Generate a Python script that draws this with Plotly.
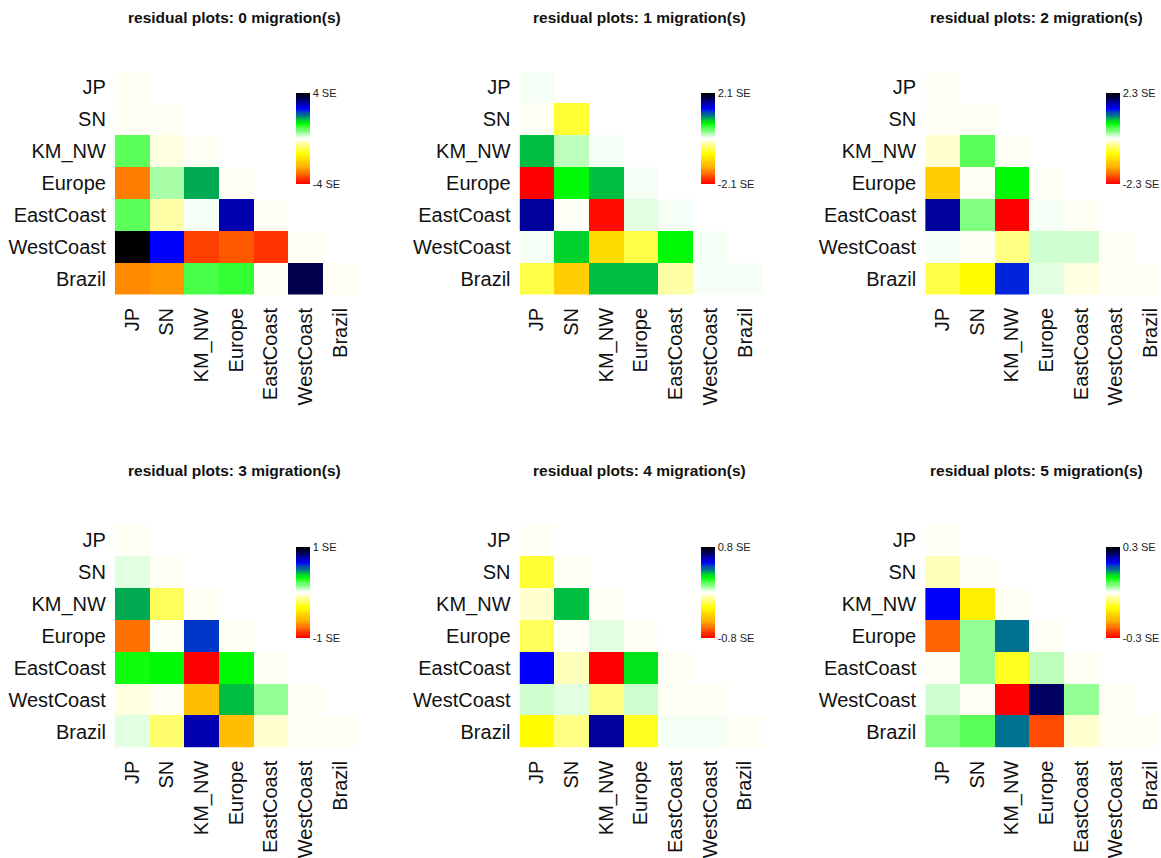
import numpy as np
import plotly.graph_objects as go

# ---- data -----------------------------------------------------------------
pops = ["JP", "SN", "KM_NW", "Europe", "EastCoast", "WestCoast", "Brazil"]
migrations = [0, 1, 2, 3, 4, 5]
se_max = [4, 2.1, 2.3, 1, 0.8, 0.3]

# lower-triangle residuals in SE units; row i holds columns 0..i
resid_m0 = [
    [0.0],
    [0.0, 0.0],
    [0.89, -0.16, 0.0],
    [-2.96, 0.46, 1.78, 0.0],
    [0.80, -0.41, 0.08, 3.00, 0.0],
    [4.00, 2.64, -3.48, -3.27, -3.55, 0.0],
    [-2.87, -2.71, 0.97, 1.07, -0.04, 3.50, 0.0],
]
resid_m1 = [
    [0.04],
    [0.0, -0.57],
    [0.88, 0.19, 0.04],
    [-2.10, 0.69, 0.88, 0.04],
    [1.66, 0.0, -2.00, 0.09, 0.04],
    [0.04, 0.79, -0.97, -0.48, 0.73, 0.04],
    [-0.51, -1.10, 0.88, 0.84, -0.24, 0.04, 0.04],
]
resid_m2 = [
    [0.0],
    [0.0, 0.0],
    [-0.17, 0.51, 0.0],
    [-1.17, 0.0, 0.80, 0.0],
    [1.79, 0.38, -2.30, 0.05, 0.0],
    [0.05, 0.0, -0.36, 0.15, 0.15, 0.0],
    [-0.56, -0.78, 1.43, 0.10, -0.07, 0.0, 0.0],
]
resid_m3 = [
    [0.0],
    [0.04, 0.0],
    [0.43, -0.22, 0.0],
    [-0.76, 0.0, 0.60, 0.0],
    [0.31, 0.345, -1.00, 0.34, 0.0],
    [-0.03, 0.0, -0.57, 0.42, 0.145, 0.0],
    [0.04, -0.19, 0.76, -0.57, -0.06, 0.0, 0.0],
]
resid_m4 = [
    [0.0],
    [-0.20, 0.0],
    [-0.05, 0.34, 0.0],
    [-0.16, 0.0, 0.035, 0.0],
    [0.52, -0.07, -0.80, 0.29, 0.0],
    [0.05, 0.035, -0.14, 0.05, 0.0, 0.0],
    [-0.27, -0.14, 0.62, -0.23, 0.015, 0.015, 0.0],
]
resid_m5 = [
    [0.0],
    [-0.027, 0.0],
    [0.20, -0.12, 0.0],
    [-0.24, 0.04, 0.156, 0.0],
    [0.0, 0.04, -0.087, 0.027, 0.0],
    [0.02, 0.0, -0.30, 0.26, 0.04, 0.0],
    [0.05, 0.067, 0.156, -0.25, -0.02, 0.0, 0.0],
]
residuals = [resid_m0, resid_m1, resid_m2, resid_m3, resid_m4, resid_m5]

# ---- palette: 80-step ramp red-orange-yellow-white-green-blue-black -------
anchors = np.array([
    [255, 0, 0], [255, 165, 0], [255, 255, 0], [255, 255, 255],
    [0, 255, 0], [0, 0, 255], [0, 0, 0]], dtype=float)
ncol = 80
pos = np.linspace(0, 1, ncol) * (len(anchors) - 1)
ramp = []
for p in pos:
    i = min(int(np.floor(p)), len(anchors) - 2)
    f = p - i
    c = anchors[i] * (1 - f) + anchors[i + 1] * f
    ramp.append("rgb(%d,%d,%d)" % tuple(int(v + 0.5) for v in c))

# stepped scale; zero itself falls in the lower middle step
eps = 1e-6
colorscale = []
for k, col in enumerate(ramp):
    lo = k / ncol
    hi = (k + 1) / ncol
    if k == ncol // 2:
        lo += eps
    if k == ncol // 2 - 1:
        hi += eps
    colorscale.append([lo, col])
    colorscale.append([hi, col])
colorscale[0][0] = 0.0
colorscale[-1][0] = 1.0

# ---- layout geometry (pixels) ---------------------------------------------
W, H = 1161, 858
col_x = [(115, 358), (520, 763), (926, 1169)]
row_y = [(72, 297), (528, 753)]
title_x = [235, 640, 1037]
title_y = [18, 474]
cbar_x = [296, 702, 1107]
cbar_y = [(94, 185), (551, 642)]

FONT = "Liberation Sans, Arial, Helvetica, sans-serif"

fig = go.Figure()
n = len(pops)
annotations = []

for idx, (mig, vmax, rows) in enumerate(zip(migrations, se_max, residuals)):
    r, c = divmod(idx, 3)
    ax = "" if idx == 0 else str(idx + 1)

    z = np.full((n, n), np.nan)
    for i, vals in enumerate(rows):
        for j, v in enumerate(vals):
            z[i, j] = v

    x0, x1 = col_x[c]
    cell_w = (x1 - x0) / n
    right = min(x1, W)
    x_hi = -0.5 + (right - x0) / cell_w
    y0, y1 = row_y[r]
    cb0, cb1 = cbar_y[r]

    fig.add_trace(go.Heatmap(
        z=z,
        x=list(range(n)),
        y=list(range(n)),
        colorscale=colorscale,
        zmin=-vmax, zmax=vmax,
        hoverongaps=False,
        xaxis="x" + ax, yaxis="y" + ax,
        colorbar=dict(
            x=cbar_x[c] / W, xanchor="left",
            y=1 - (cb0 + cb1) / 2 / H, yanchor="middle",
            len=cb1 - cb0, lenmode="pixels",
            thickness=14, thicknessmode="pixels",
            xpad=0, ypad=0, outlinewidth=0,
            tickmode="array",
            tickvals=[-vmax, vmax],
            ticktext=["-%g SE" % vmax, "%g SE" % vmax],
            ticks="", ticklen=0,
            tickfont=dict(family=FONT, size=11, color="#222"),
        ),
    ))

    fig.update_layout(**{
        "xaxis" + ax: dict(
            domain=[x0 / W, right / W],
            anchor="y" + ax,
            range=[-0.5, x_hi],
            tickmode="array", tickvals=list(range(n)), ticktext=pops,
            tickangle=-90, ticks="", ticklabelstandoff=8,
            ticklabeloverflow="allow",
            showgrid=False, zeroline=False, showline=False,
            tickfont=dict(family=FONT, size=20, color="#111"),
            fixedrange=True,
        ),
        "yaxis" + ax: dict(
            domain=[1 - y1 / H, 1 - y0 / H],
            anchor="x" + ax,
            range=[n - 0.5, -0.5],
            tickmode="array", tickvals=list(range(n)), ticktext=pops,
            ticks="", ticklabelstandoff=8,
            ticklabeloverflow="allow",
            showgrid=False, zeroline=False, showline=False,
            tickfont=dict(family=FONT, size=20, color="#111"),
            fixedrange=True,
        ),
    })

    annotations.append(dict(
        text="<b>residual plots: %d migration(s)</b>" % mig,
        x=title_x[c] / W, y=1 - title_y[r] / H,
        xref="paper", yref="paper",
        xanchor="center", yanchor="middle",
        showarrow=False,
        font=dict(family=FONT, size=15.5, color="#111"),
    ))

fig.update_layout(
    width=W, height=H,
    autosize=False,
    margin=dict(l=0, r=0, t=0, b=0),
    paper_bgcolor="white",
    plot_bgcolor="white",
    annotations=annotations,
    showlegend=False,
)

fig.write_html("out.html")
